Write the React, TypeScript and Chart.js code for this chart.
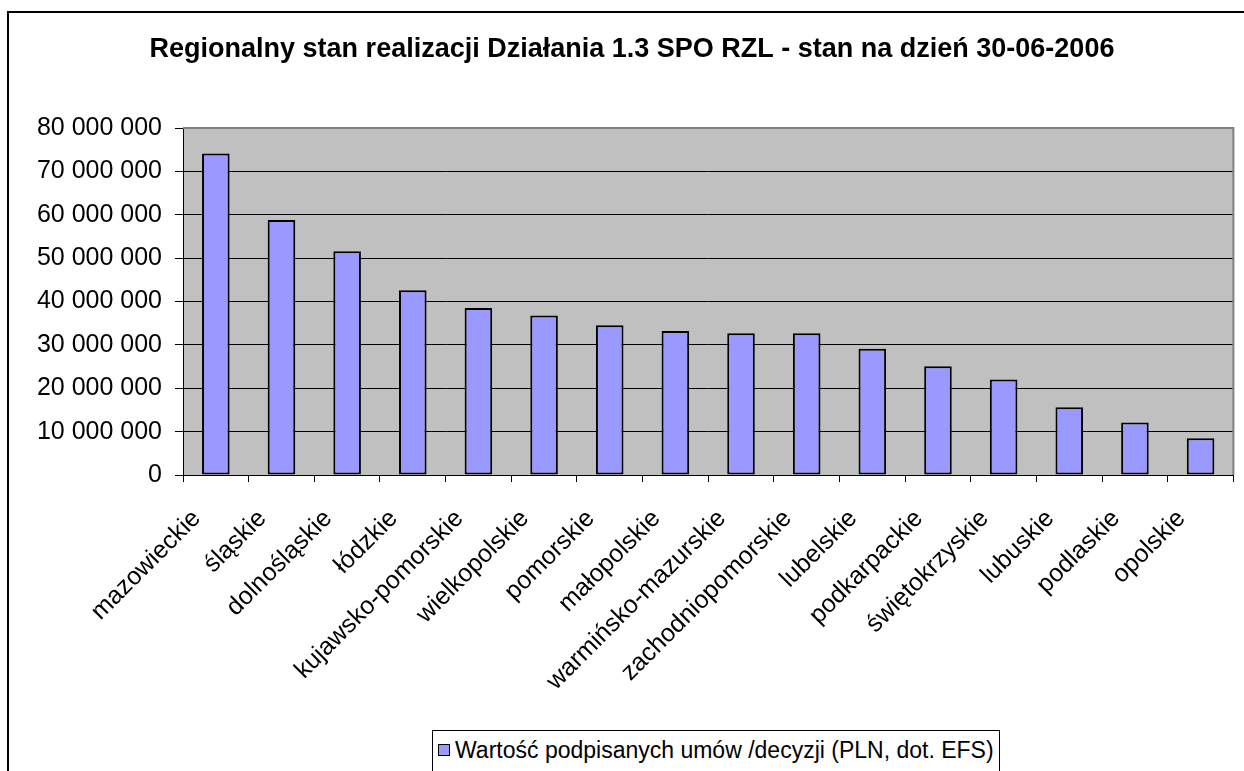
import React, { useEffect, useRef } from 'react';
import { Chart, registerables } from 'chart.js';

Chart.register(...registerables);

const TITLE = 'Regionalny stan realizacji Działania 1.3 SPO RZL - stan na dzień 30-06-2006';
const SERIES_LABEL = 'Wartość podpisanych umów /decyzji (PLN, dot. EFS)';

const categories = [
  'mazowieckie',
  'śląskie',
  'dolnośląskie',
  'łódzkie',
  'kujawsko-pomorskie',
  'wielkopolskie',
  'pomorskie',
  'małopolskie',
  'warmińsko-mazurskie',
  'zachodniopomorskie',
  'lubelskie',
  'podkarpackie',
  'świętokrzyskie',
  'lubuskie',
  'podlaskie',
  'opolskie',
];

const values = [
  74100000, 58800000, 51600000, 42600000, 38500000, 36800000, 34500000, 33200000,
  32700000, 32700000, 29100000, 25100000, 22000000, 15600000, 12100000, 8500000,
];

const yMin = 0;
const yMax = 80000000;
const yStep = 10000000;

const FONT = "'Liberation Sans', Arial, Helvetica, sans-serif";
const BAR_FILL = '#9999FF';
const PLOT_BG = '#C0C0C0';

function formatThousands(v: number): string {
  return String(Math.round(v)).replace(/\B(?=(\d{3})+(?!\d))/g, ' ');
}

const plotDecor = {
  id: 'plotDecor',
  beforeDraw(chart: any) {
    const { ctx, chartArea: a } = chart;
    ctx.save();
    ctx.fillStyle = PLOT_BG;
    ctx.fillRect(a.left, a.top, a.right - a.left, a.bottom - a.top);
    ctx.restore();
  },
  afterDraw(chart: any) {
    const { ctx, chartArea: a } = chart;
    ctx.save();
    ctx.strokeStyle = '#808080';
    ctx.lineWidth = 2;
    ctx.beginPath();
    ctx.moveTo(a.left, a.top);
    ctx.lineTo(a.right, a.top);
    ctx.lineTo(a.right, a.bottom);
    ctx.stroke();
    ctx.fillStyle = '#000';
    ctx.font = `bold 27px ${FONT}`;
    ctx.textAlign = 'center';
    ctx.textBaseline = 'middle';
    ctx.fillText(TITLE, 632, 50);
    ctx.restore();
  },
};

export default function App() {
  const canvasRef = useRef<HTMLCanvasElement | null>(null);

  useEffect(() => {
    if (!canvasRef.current) return;
    const chart = new Chart(canvasRef.current, {
      type: 'bar',
      data: {
        labels: categories,
        datasets: [
          {
            label: SERIES_LABEL,
            data: values,
            backgroundColor: BAR_FILL,
            borderColor: '#000000',
            borderWidth: 2,
            borderSkipped: false,
            barPercentage: 0.42,
            categoryPercentage: 1,
          },
        ],
      },
      options: {
        animation: false,
        responsive: false,
        devicePixelRatio: 1,
        layout: { padding: { top: 128, right: 7, bottom: 0, left: 0 } },
        plugins: {
          legend: { display: false },
          title: { display: false },
          tooltip: { enabled: false },
        },
        scales: {
          x: {
            afterFit(scale: any) {
              scale.height = 296;
            },
            grid: {
              drawOnChartArea: false,
              drawTicks: true,
              tickLength: 7,
              color: '#000000',
              offset: true,
            },
            border: { display: true, color: '#000000', width: 1 },
            ticks: {
              autoSkip: false,
              maxRotation: 45,
              minRotation: 45,
              color: '#000000',
              padding: 22,
              labelOffset: -19,
              font: { family: FONT, size: 25 },
            },
          },
          y: {
            min: yMin,
            max: yMax,
            afterFit(scale: any) {
              scale.width = 183;
            },
            grid: {
              color: '#000000',
              lineWidth: 1,
              drawTicks: true,
              tickLength: 8,
            },
            border: { display: true, color: '#000000', width: 1 },
            ticks: {
              stepSize: yStep,
              color: '#000000',
              padding: 13,
              font: { family: FONT, size: 25 },
              callback: (v: any) => formatThousands(Number(v)),
            },
          },
        },
      },
      plugins: [plotDecor],
    });
    return () => chart.destroy();
  }, []);

  return (
    <div
      style={{
        position: 'absolute',
        left: 0,
        top: 0,
        width: 1244,
        height: 771,
        overflow: 'hidden',
        background: '#ffffff',
      }}
    >
      <div
        style={{
          position: 'absolute',
          left: 7,
          top: 11,
          width: 1400,
          height: 900,
          border: '2px solid #000',
          boxSizing: 'border-box',
        }}
      />
      <canvas
        ref={canvasRef}
        width={1244}
        height={771}
        style={{ position: 'absolute', left: 0, top: 0, width: 1244, height: 771 }}
      />
      <div
        style={{
          position: 'absolute',
          left: 432,
          top: 730,
          width: 568,
          height: 80,
          border: '1px solid #000',
          boxSizing: 'border-box',
          background: '#fff',
        }}
      >
        <div
          style={{
            position: 'absolute',
            left: 5,
            top: 13,
            width: 12,
            height: 12,
            background: BAR_FILL,
            border: '1px solid #000',
            boxSizing: 'border-box',
          }}
        />
        <div
          style={{
            position: 'absolute',
            left: 22,
            top: 5,
            fontFamily: FONT,
            fontSize: 23,
            lineHeight: '28px',
            whiteSpace: 'nowrap',
            color: '#000',
          }}
        >
          {SERIES_LABEL}
        </div>
      </div>
    </div>
  );
}
